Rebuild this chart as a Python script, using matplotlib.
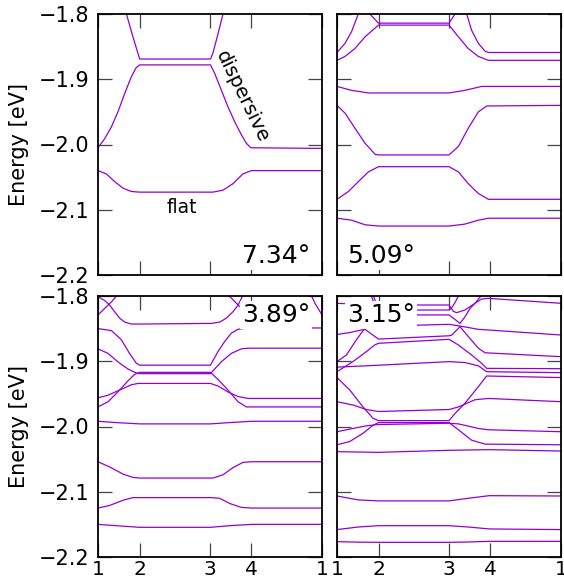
import matplotlib
matplotlib.use("Agg")
import matplotlib.pyplot as plt

# k-path nodes (1 -> 2 -> 3 -> 4 -> 1) and energy axis
k_nodes = [0.0, 0.186, 0.501, 0.684, 1.0]
k_labels = ["1", "2", "3", "4", "1"]
e_ticks = [-2.2, -2.1, -2.0, -1.9, -1.8]
angles = ["7.34°", "5.09°", "3.89°", "3.15°"]

# ---- 7.34 deg: bands as (k, E[eV]) ----
tl_flat = [(0, -2.040), (0.037, -2.045), (0.075, -2.057), (0.112, -2.067), (0.149, -2.072),
           (0.186, -2.073), (0.513, -2.073), (0.558, -2.070), (0.603, -2.060), (0.647, -2.045),
           (0.685, -2.040), (1.0, -2.040)]
tl_disp_lo = [(0, -2.005), (0.030, -1.991), (0.060, -1.973), (0.089, -1.950), (0.119, -1.922),
              (0.149, -1.896), (0.171, -1.882), (0.186, -1.878), (0.502, -1.878), (0.521, -1.891),
              (0.551, -1.917), (0.580, -1.942), (0.610, -1.965), (0.640, -1.985), (0.662, -1.998),
              (0.682, -2.005), (1.0, -2.006)]
tl_disp_hi = [(0.118, -1.789), (0.127, -1.800), (0.156, -1.835), (0.186, -1.869), (0.502, -1.869),
              (0.513, -1.860), (0.536, -1.830), (0.558, -1.800), (0.567, -1.788)]

# ---- 5.09 deg ----
tr_1 = [(0, -2.113), (0.065, -2.116), (0.125, -2.123), (0.185, -2.125), (0.500, -2.125),
        (0.571, -2.122), (0.631, -2.116), (0.676, -2.113), (1.0, -2.113)]
tr_2 = [(0, -2.084), (0.051, -2.072), (0.095, -2.057), (0.140, -2.042), (0.185, -2.034),
        (0.500, -2.034), (0.542, -2.042), (0.586, -2.060), (0.631, -2.075), (0.676, -2.084),
        (1.0, -2.084)]
tr_3 = [(0, -1.940), (0.036, -1.952), (0.080, -1.975), (0.125, -1.998), (0.170, -2.015),
        (0.185, -2.016), (0.500, -2.016), (0.542, -2.003), (0.586, -1.975), (0.631, -1.950),
        (0.668, -1.941), (1.0, -1.940)]
tr_4 = [(0, -1.911), (0.065, -1.917), (0.140, -1.921), (0.185, -1.921), (0.500, -1.921),
        (0.571, -1.917), (0.646, -1.911), (0.676, -1.911), (1.0, -1.911)]
tr_5 = [(0, -1.871), (0.036, -1.865), (0.080, -1.853), (0.125, -1.835), (0.185, -1.817),
        (0.500, -1.817), (0.542, -1.835), (0.586, -1.853), (0.631, -1.865), (0.676, -1.871),
        (1.0, -1.871)]
tr_6a = [(0, -1.859), (0.036, -1.845), (0.065, -1.827), (0.095, -1.800), (0.107, -1.789)]
tr_6b = [(0.564, -1.789), (0.579, -1.800), (0.601, -1.825), (0.631, -1.845), (0.661, -1.857),
         (0.676, -1.859), (1.0, -1.859)]
tr_7 = [(0.132, -1.789), (0.147, -1.800), (0.185, -1.814), (0.500, -1.814), (0.527, -1.800),
        (0.542, -1.789)]

# ---- 3.89 deg ----
bl_1 = [(0, -2.150), (0.082, -2.152), (0.186, -2.1545), (0.502, -2.1545), (0.588, -2.152),
        (0.685, -2.150), (1.0, -2.150)]
bl_2 = [(0, -2.125), (0.052, -2.121), (0.112, -2.113), (0.156, -2.109), (0.186, -2.109),
        (0.502, -2.109), (0.543, -2.110), (0.588, -2.118), (0.640, -2.124), (0.685, -2.125),
        (1.0, -2.125)]
bl_3 = [(0, -2.054), (0.052, -2.062), (0.112, -2.073), (0.156, -2.078), (0.186, -2.079),
        (0.513, -2.079), (0.558, -2.074), (0.603, -2.063), (0.647, -2.055), (0.685, -2.054),
        (1.0, -2.054)]
bl_4 = [(0, -1.992), (0.082, -1.994), (0.186, -1.996), (0.502, -1.996), (0.588, -1.994),
        (0.685, -1.992), (1.0, -1.992)]
bl_5 = [(0, -1.956), (0.045, -1.952), (0.104, -1.943), (0.149, -1.936), (0.179, -1.934),
        (0.186, -1.934), (0.502, -1.934), (0.536, -1.938), (0.580, -1.947), (0.625, -1.954),
        (0.670, -1.957), (1.0, -1.957)]
bl_6 = [(0, -1.970), (0.045, -1.962), (0.089, -1.947), (0.134, -1.930), (0.164, -1.920),
        (0.186, -1.917), (0.502, -1.917), (0.536, -1.928), (0.580, -1.944), (0.625, -1.962),
        (0.662, -1.970), (1.0, -1.970)]
bl_7 = [(0, -1.881), (0.045, -1.888), (0.089, -1.901), (0.134, -1.912), (0.171, -1.918),
        (0.186, -1.919), (0.502, -1.919), (0.550, -1.901), (0.595, -1.888), (0.640, -1.881),
        (0.670, -1.880), (1.0, -1.880)]
bl_8 = [(0, -1.850), (0.060, -1.853), (0.104, -1.867), (0.141, -1.888), (0.171, -1.903),
        (0.186, -1.906), (0.502, -1.906), (0.536, -1.885), (0.565, -1.870), (0.595, -1.857),
        (0.625, -1.851), (0.670, -1.849), (1.0, -1.849)]
bl_9 = [(0, -1.801), (0.030, -1.807), (0.052, -1.814), (0.074, -1.824), (0.097, -1.834),
        (0.119, -1.840), (0.149, -1.843), (0.186, -1.843), (0.506, -1.842), (0.543, -1.840),
        (0.573, -1.834), (0.603, -1.824), (0.625, -1.814), (0.640, -1.804), (0.647, -1.798)]
bl_10a = [(0, -1.829), (0.030, -1.819), (0.060, -1.809), (0.082, -1.800), (0.097, -1.791)]
bl_10b = [(0.940, -1.790), (0.970, -1.812), (1.0, -1.829)]
bl_11 = [(0.580, -1.798), (0.632, -1.816), (0.662, -1.822)]

# ---- 3.15 deg ----
br_1 = [(0, -2.1765), (0.095, -2.1772), (0.185, -2.1775), (0.500, -2.1775), (0.586, -2.177),
        (0.680, -2.176), (1.0, -2.176)]
br_2 = [(0, -2.158), (0.095, -2.154), (0.185, -2.152), (0.500, -2.152), (0.586, -2.154),
        (0.680, -2.157), (1.0, -2.158)]
br_3 = [(0, -2.1065), (0.095, -2.1125), (0.185, -2.114), (0.500, -2.114), (0.586, -2.110),
        (0.680, -2.106), (1.0, -2.1065)]
br_4 = [(0, -2.0386), (0.185, -2.0396), (0.500, -2.0365), (0.680, -2.0355), (1.0, -2.0376)]
br_5 = [(0, -2.028), (0.057, -2.023), (0.116, -2.0105), (0.161, -1.998), (0.185, -1.994),
        (0.500, -1.994), (0.542, -2.005), (0.601, -2.021), (0.661, -2.027), (1.0, -2.028)]
br_6 = [(0, -2.008), (0.071, -2.003), (0.131, -1.999), (0.185, -1.997), (0.500, -1.995),
        (0.542, -1.996), (0.631, -2.003), (0.676, -2.005), (1.0, -2.008)]
br_7 = [(0, -1.925), (0.057, -1.944), (0.116, -1.970), (0.161, -1.9875), (0.185, -1.991),
        (0.500, -1.991), (0.527, -1.980), (0.571, -1.9645), (0.631, -1.939), (0.668, -1.9226),
        (1.0, -1.925)]
br_8 = [(0, -1.962), (0.071, -1.967), (0.131, -1.974), (0.185, -1.977), (0.500, -1.974),
        (0.542, -1.970), (0.616, -1.959), (0.676, -1.957), (1.0, -1.962)]
br_9 = [(0, -1.909), (0.131, -1.907), (0.500, -1.9006), (0.571, -1.902), (0.631, -1.907),
        (0.668, -1.916), (1.0, -1.9175)]
br_10 = [(0, -1.859), (0.057, -1.856), (0.124, -1.851), (0.153, -1.858), (0.185, -1.866),
         (0.500, -1.861), (0.512, -1.860), (0.542, -1.8496), (0.549, -1.847), (0.586, -1.862),
         (0.631, -1.880), (0.661, -1.887), (1.0, -1.893)]
br_11 = [(0, -1.9006), (0.042, -1.8904), (0.086, -1.8674), (0.124, -1.8496), (0.176, -1.847),
         (0.280, -1.8455), (0.500, -1.8434), (0.549, -1.846), (0.631, -1.8511), (0.676, -1.8521),
         (1.0, -1.8598)]
br_12 = [(0, -1.916), (0.071, -1.9006), (0.131, -1.8853), (0.168, -1.8751), (0.185, -1.8725),
         (0.500, -1.8664), (0.542, -1.8751), (0.601, -1.8904), (0.646, -1.9032), (0.668, -1.9109),
         (1.0, -1.9114)]
br_13 = [(0, -1.8112), (0.060, -1.812), (0.185, -1.8138), (0.500, -1.8138), (0.519, -1.8235),
         (0.534, -1.8255), (0.571, -1.8215), (0.616, -1.8112), (0.646, -1.8046), (0.676, -1.8036),
         (1.0, -1.8112)]
br_14 = [(0.160, -1.797), (0.185, -1.8215), (0.500, -1.8215), (0.512, -1.818), (0.527, -1.810),
         (0.542, -1.800), (0.550, -1.795)]
br_15 = [(0.150, -1.797), (0.185, -1.829), (0.500, -1.829), (0.527, -1.836), (0.549, -1.842),
         (0.571, -1.832), (0.594, -1.819), (0.616, -1.8112), (0.638, -1.802), (0.646, -1.7985)]

bands_734 = [tl_flat, tl_disp_lo, tl_disp_hi]
bands_509 = [tr_1, tr_2, tr_3, tr_4, tr_5, tr_6a, tr_6b, tr_7]
bands_389 = [bl_1, bl_2, bl_3, bl_4, bl_5, bl_6, bl_7, bl_8, bl_9, bl_10a, bl_10b, bl_11]
bands_315 = [br_1, br_2, br_3, br_4, br_5, br_6, br_7, br_8, br_9, br_10, br_11, br_12,
             br_13, br_14, br_15]

LINE = "#9400d3"

fig = plt.figure(figsize=(5.64, 5.81), dpi=100)
W, H = 564, 581
aw, ah = 224 / W, 261 / H
rects = [
    [98 / W, 1 - 275 / H, aw, ah],
    [337 / W, 1 - 275 / H, aw, ah],
    [98 / W, 1 - 557 / H, aw, ah],
    [337 / W, 1 - 557 / H, aw, ah],
]
all_bands = [bands_734, bands_509, bands_389, bands_315]

for i, (rect, bands, angle) in enumerate(zip(rects, all_bands, angles)):
    ax = fig.add_axes(rect)
    for band in bands:
        ks = [p[0] for p in band]
        es = [p[1] for p in band]
        ax.plot(ks, es, color=LINE, lw=0.9)
    ax.set_xlim(0, 1)
    ax.set_ylim(-2.2, -1.8)
    ax.set_xticks(k_nodes)
    ax.set_yticks(e_ticks)
    ax.tick_params(direction="in", length=10, width=0.9, color="#444444",
                   top=True, right=True, labelsize=15)
    ax.tick_params(axis="y", pad=6)
    ax.tick_params(axis="x", pad=2, labelsize=14.5)
    for s in ax.spines.values():
        s.set_linewidth(1.3)

    if i % 2 == 0:
        ax.set_yticklabels([f"{v:.1f}".replace("-", "\u2212") for v in e_ticks])
        ax.set_ylabel("Energy [eV]", fontsize=15)
        ax.yaxis.set_label_coords(-0.31, 0.5)
    else:
        ax.set_yticklabels([])
    if i >= 2:
        ax.set_xticklabels(k_labels)
    else:
        ax.set_xticklabels([])

    right = i % 2 == 0
    y_txt = 0.046 if i < 2 else 0.9015
    ax.text(0.948 if right else 0.043, y_txt, angle, transform=ax.transAxes,
            fontsize=18, ha="right" if right else "left", va="baseline", zorder=5,
            bbox=dict(fc="white", ec="none", pad=1.5))

    if i == 0:
        ax.text(0.646, 0.682, "dispersive", transform=ax.transAxes, fontsize=14,
                rotation=-64, ha="center", va="center")
        ax.text(0.375, 0.259, "flat", transform=ax.transAxes, fontsize=13.5,
                ha="center", va="center")

fig.savefig("out.png", dpi=100)
